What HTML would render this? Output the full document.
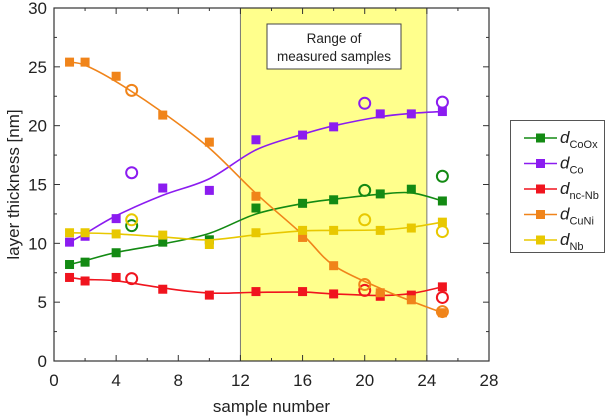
<!DOCTYPE html>
<html><head><meta charset="utf-8"><style>
html,body{margin:0;padding:0;background:#fff;}
svg{display:block;font-family:"Liberation Sans",Arial,sans-serif;}
</style></head><body>
<svg id="chart" width="605" height="419" viewBox="0 0 605 419"></svg>
<script>
const xs = [1,2,4,7,10,13,16,18,21,23,25];
const seriesNames = ["CoOx","Co","nc-Nb","CuNi","Nb"];
const colors = ["#138a13","#8b1cf0","#f0141e","#f0841a","#e8c800"];
const valCoOx = [8.2,8.4,9.2,10.1,10.3,13.0,13.4,13.7,14.2,14.6,13.6];
const valCo   = [10.1,10.6,12.1,14.7,14.5,18.8,19.2,19.9,21.0,21.0,21.2];
const valNcNb = [7.1,6.8,7.1,6.1,5.6,5.9,5.9,5.7,5.5,5.6,6.3];
const valCuNi = [25.4,25.4,24.2,20.9,18.6,14.0,10.5,8.1,5.8,5.2,4.1];
const valNb   = [10.9,10.9,10.8,10.7,9.9,10.9,11.1,11.1,11.1,11.3,11.8];
const openX = [5,20,25];
const openCoOx = [11.5,14.5,15.7];
const openCo   = [16.0,21.9,22.0];
const openNcNb = [7.0,6.0,5.4];
const openCuNi = [23.0,6.5,4.2];
const openNb   = [12.0,12.0,11.0];
const xTicks = [0,4,8,12,16,20,24,28];
const yTicks = [0,5,10,15,20,25,30];
const bandRange = [12,24];

const X0=54,X1=489,Y0=361,Y1=8;
const sx=v=>X0+(v-0)/28*(X1-X0);
const sy=v=>Y0-(v-0)/30*(Y0-Y1);
const svg=document.getElementById('chart');
const NS='http://www.w3.org/2000/svg';
function mk(tag,attrs,parent){const e=document.createElementNS(NS,tag);for(const k in attrs)e.setAttribute(k,attrs[k]);(parent||svg).appendChild(e);return e;}

const band=mk('rect',{x:sx(bandRange[0]),y:Y1,width:sx(bandRange[1])-sx(bandRange[0]),height:Y0-Y1,fill:'#ffff8c',stroke:'#777','stroke-width':1});



const tg=mk('g',{stroke:'#333','stroke-width':1});


for(let v=0;v<=28;v+=2){const x=sx(v),L=v%4==0?6:3;mk('line',{x1:x,x2:x,y1:Y0,y2:Y0-L},tg);mk('line',{x1:x,x2:x,y1:Y1,y2:Y1+L},tg);}
for(let v=0;v<=30;v+=2.5){const y=sy(v),L=v%5==0?6:3;mk('line',{x1:X0,x2:X0+L,y1:y,y2:y},tg);mk('line',{x1:X1,x2:X1-L,y1:y,y2:y},tg);}
xTicks.forEach(v=>{const t=mk('text',{x:sx(v),y:Y0+25,'text-anchor':'middle','font-size':17,fill:'#222'});t.textContent=v;
});
yTicks.forEach(v=>{const t=mk('text',{x:X0-7,y:sy(v)+6,'text-anchor':'end','font-size':17,fill:'#222'});t.textContent=v;
});

const bx=mk('g',{});

mk('rect',{x:267,y:24,width:134,height:45,fill:'#fff',stroke:'#444','stroke-width':1},bx);
let t=mk('text',{x:334,y:43,'text-anchor':'middle','font-size':13.5,fill:'#222'},bx);t.textContent='Range of';
t=mk('text',{x:334,y:61,'text-anchor':'middle','font-size':13.5,fill:'#222'},bx);t.textContent='measured samples';

function smooth(vals){
  return vals.map((v,i)=>(i==0||i==vals.length-1)?v:0.22*vals[i-1]+0.56*v+0.22*vals[i+1]);
}
function curve(vals){
  const sv=smooth(vals);
  const p=xs.map((x,i)=>[sx(x),sy(sv[i])]);
  let d='M'+p[0][0]+','+p[0][1];
  for(let i=0;i<p.length-1;i++){
    const a=p[Math.max(i-1,0)],b=p[i],c=p[i+1],e=p[Math.min(i+2,p.length-1)];
    const c1=[b[0]+(c[0]-a[0])/6,b[1]+(c[1]-a[1])/6],c2=[c[0]-(e[0]-b[0])/6,c[1]-(e[1]-b[1])/6];
    d+=' C'+c1+' '+c2+' '+c;
  }
  return d;
}
const allVals=[valCoOx,valCo,valNcNb,valCuNi,valNb];
const allOpen=[openCoOx,openCo,openNcNb,openCuNi,openNb];
allVals.forEach((vals,k)=>{
  const g=mk('g',{});
  
  
  mk('path',{d:curve(vals),fill:'none',stroke:colors[k],'stroke-width':1.6},g);
  vals.forEach((v,i)=>{const r=mk('rect',{x:sx(xs[i])-4.5,y:sy(v)-4.5,width:9,height:9,fill:colors[k]},g);
    });
  allOpen[k].forEach((v,i)=>{const c=mk('circle',{cx:sx(openX[i]),cy:sy(v),r:5.5,fill:'none',stroke:colors[k],'stroke-width':2},g);
    });
});

const fr=mk('rect',{x:X0,y:Y1,width:X1-X0,height:Y0-Y1,fill:'none',stroke:'#333','stroke-width':1.2});


t=mk('text',{x:(X0+X1)/2,y:412,'text-anchor':'middle','font-size':17,fill:'#222'});t.textContent='sample number';

t=mk('text',{x:0,y:0,'text-anchor':'middle','font-size':17,fill:'#222',transform:'translate(19,'+((Y0+Y1)/2)+') rotate(-90)'});t.textContent='layer thickness [nm]';


const lg=mk('g',{});

mk('rect',{x:510.5,y:120.5,width:94,height:132,fill:'#fff',stroke:'#555','stroke-width':1},lg);
const subs=["CoOx","Co","nc-Nb","CuNi","Nb"];
subs.forEach((s,k)=>{
  const y=138+k*25.5;
  const e=mk('g',{},lg);
  
  mk('line',{x1:524,x2:557,y1:y,y2:y,stroke:colors[k],'stroke-width':1.6},e);
  mk('rect',{x:536,y:y-4.5,width:9,height:9,fill:colors[k]},e);
  const tx=mk('text',{x:560,y:y+5,'font-size':17,fill:'#222'},e);
  const a=document.createElementNS(NS,'tspan');a.setAttribute('font-style','italic');a.textContent='d';tx.appendChild(a);
  const b=document.createElementNS(NS,'tspan');b.setAttribute('font-size','11');b.setAttribute('dy','5');b.textContent=s;tx.appendChild(b);
});
</script>
</body></html>
